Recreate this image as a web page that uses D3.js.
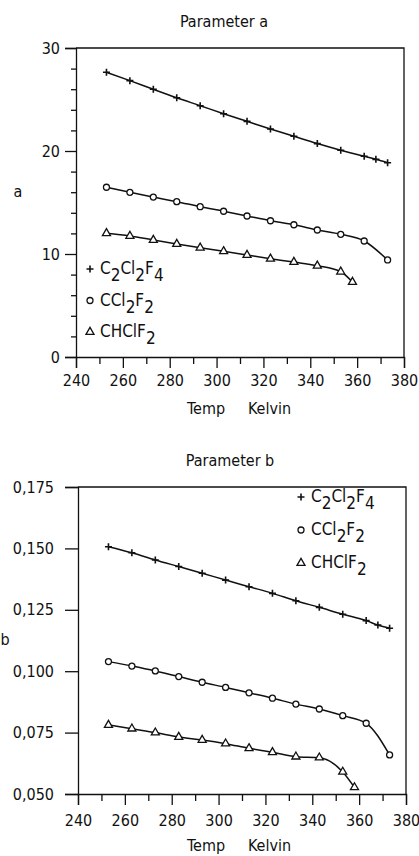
<!DOCTYPE html>
<html lang="en">
<head>
<meta charset="UTF-8">
<script src="https://d3js.org/d3.v7.min.js"></script>
<title>Parameters a and b</title>
<style>
  body { margin: 0; background: #fff; }
  svg { display: block; }
  text { font-family: "DejaVu Sans Condensed", "DejaVu Sans", sans-serif; font-stretch: condensed; fill: #111; }
  .domain { stroke: #111; stroke-width: 1.3; }
  .tick line { stroke: #111; stroke-width: 1.3; }
</style>
</head>
<body>
<div id="chart"></div>
<script>
// temperatures (K) at which each refrigerant was evaluated
var tempC2Cl2F4 = [253, 263, 273, 283, 293, 303, 313, 323, 333, 343, 353, 363, 368, 373];
var tempCCl2F2  = [253, 263, 273, 283, 293, 303, 313, 323, 333, 343, 353, 363, 373];
var tempCHClF2  = [253, 263, 273, 283, 293, 303, 313, 323, 333, 343, 353, 358];

// parameter a
var aC2Cl2F4 = [27.64, 26.83, 25.99, 25.17, 24.40, 23.62, 22.88, 22.14, 21.43, 20.72, 20.07, 19.49, 19.19, 18.86];
var aCCl2F2  = [16.48, 15.99, 15.53, 15.08, 14.59, 14.15, 13.69, 13.23, 12.84, 12.33, 11.91, 11.26, 9.42];
var aCHClF2  = [12.01, 11.75, 11.36, 10.97, 10.61, 10.26, 9.90, 9.54, 9.22, 8.86, 8.28, 7.28];

// parameter b
var bC2Cl2F4 = [0.1507, 0.1482, 0.1453, 0.1426, 0.1399, 0.1371, 0.1344, 0.1317, 0.1287, 0.1260, 0.1232, 0.1206, 0.1188, 0.1175];
var bCCl2F2  = [0.1039, 0.1021, 0.1001, 0.0978, 0.0955, 0.0934, 0.0912, 0.0890, 0.0866, 0.0846, 0.0819, 0.0788, 0.0659];
var bCHClF2  = [0.0781, 0.0766, 0.0750, 0.0732, 0.0720, 0.0705, 0.0686, 0.0670, 0.0652, 0.0648, 0.0590, 0.0527];

var seriesNames = ["C_2Cl_2F_4", "CCl_2F_2", "CHClF_2"];
var markers = ["plus", "circle", "triangle"];

var xTicks = [240, 260, 280, 300, 320, 340, 360, 380];
var xMinorTicks = [250, 270, 290, 310, 330, 350, 370];
var aTicks = [0, 10, 20, 30];
var aMinorTicks = [2, 4, 6, 8, 12, 14, 16, 18, 22, 24, 26, 28];
var bTicks = [0.050, 0.075, 0.100, 0.125, 0.150, 0.175];

var width = 419, height = 856;

var svg = d3.select("#chart").append("svg")
    .attr("width", width).attr("height", height);

function zip(xs, ys) {
    return xs.map(function(x, i) { return [x, ys[i]]; });
}

// writes "C_2Cl_2F_4" as text with dropped subscripts
function chem(sel, name) {
    var parts = name.split("_");
    sel.append("tspan").text(parts[0]);
    for (var i = 1; i < parts.length; i++) {
        sel.append("tspan").attr("dy", 7).text(parts[i][0]);
        sel.append("tspan").attr("dy", -7).text(parts[i].slice(1));
    }
}

function drawMarker(g, type) {
    if (type == "plus") {
        g.append("path").attr("d", "M-3.5,0H3.5M0,-3.5V3.5")
            .attr("stroke", "#111").attr("stroke-width", 1.6);
    } else if (type == "circle") {
        g.append("circle").attr("r", 3)
            .attr("fill", "#fff").attr("stroke", "#111").attr("stroke-width", 1.3);
    } else {
        g.append("path").attr("d", d3.symbol().type(d3.symbolTriangle).size(28)())
            .attr("fill", "#fff").attr("stroke", "#111").attr("stroke-width", 1.3);
    }
}

function panel(opt) {
    var g = svg.append("g");
    var x = d3.scaleLinear().domain([240, 380]).range([opt.left, opt.right]);
    var y = d3.scaleLinear().domain(opt.yDomain).range([opt.bottom, opt.top]);

    // frame top & right
    g.append("path")
        .attr("d", "M" + opt.left + "," + opt.top + "H" + opt.right + "V" + opt.bottom)
        .attr("fill", "none").attr("stroke", "#111").attr("stroke-width", 1.3);

    // x axis
    var xa = g.append("g").attr("transform", "translate(0," + opt.bottom + ")")
        .call(d3.axisBottom(x).tickValues(xTicks).tickSize(11).tickPadding(opt.xPad));
    xa.selectAll("text").attr("font-size", 16);
    g.append("g").attr("transform", "translate(0," + opt.bottom + ")")
        .call(d3.axisBottom(x).tickValues(xMinorTicks).tickSize(7).tickFormat(""))
        .select(".domain").remove();

    // y axis
    var ya = g.append("g").attr("transform", "translate(" + opt.left + ",0)")
        .call(d3.axisLeft(y).tickValues(opt.yTicks).tickSize(opt.yTick).tickPadding(opt.yPad)
            .tickFormat(opt.yFormat));
    ya.selectAll("text").attr("font-size", 16);
    if (opt.yMinor) {
        g.append("g").attr("transform", "translate(" + opt.left + ",0)")
            .call(d3.axisLeft(y).tickValues(opt.yMinor).tickSize(5).tickFormat(""))
            .select(".domain").remove();
    }

    // curves and markers
    var line = d3.line().curve(d3.curveMonotoneX)
        .x(function(d) { return x(d[0]); })
        .y(function(d) { return y(d[1]); });

    opt.series.forEach(function(s, i) {
        g.append("path").datum(s).attr("d", line)
            .attr("fill", "none").attr("stroke", "#111").attr("stroke-width", 1.5);
        g.selectAll(".m" + i).data(s).enter().append("g")
            .attr("class", "m" + i)
            .attr("transform", function(d) { return "translate(" + x(d[0]) + "," + y(d[1]) + ")"; })
            .each(function() { drawMarker(d3.select(this), markers[i]); });
    });

    // title and axis labels
    g.append("text").attr("x", opt.titleX).attr("y", opt.titleY)
        .attr("text-anchor", "middle").attr("font-size", 16).text(opt.title);
    g.append("text").attr("x", 239).attr("y", opt.bottom + 57)
        .attr("text-anchor", "middle").attr("font-size", 16).attr("xml:space", "preserve")
        .text("Temp     Kelvin");
    g.append("text").attr("x", opt.yLabelX).attr("y", opt.yLabelY)
        .attr("text-anchor", "middle").attr("font-size", 16).text(opt.yLabel);

    // legend
    seriesNames.forEach(function(n, i) {
        var ly = opt.legendY + i * opt.legendStep;
        var m = g.append("g").attr("transform", "translate(" + opt.legendX + "," + ly + ")");
        drawMarker(m, markers[i]);
        var t = g.append("text").attr("x", opt.legendX + 10).attr("y", ly + 5)
            .attr("font-size", 17);
        chem(t, n);
    });
}

panel({
    left: 76, right: 404, top: 48, bottom: 357,
    yDomain: [0, 30], yTicks: aTicks, yMinor: aMinorTicks, yFormat: d3.format("d"),
    yTick: 11, yPad: 5, xPad: 7,
    series: [zip(tempC2Cl2F4, aC2Cl2F4), zip(tempCCl2F2, aCCl2F2), zip(tempCHClF2, aCHClF2)],
    title: "Parameter a", titleX: 224, titleY: 27,
    yLabel: "a", yLabelX: 18, yLabelY: 197,
    legendX: 90, legendY: 269, legendStep: 31.5
});

panel({
    left: 78, right: 406, top: 487, bottom: 794,
    yDomain: [0.05, 0.175], yTicks: bTicks,
    yFormat: function(d) { return d3.format(".3f")(d).replace(".", ","); },
    yTick: 13, yPad: 11, xPad: 10,
    series: [zip(tempC2Cl2F4, bC2Cl2F4), zip(tempCCl2F2, bCCl2F2), zip(tempCHClF2, bCHClF2)],
    title: "Parameter b", titleX: 230, titleY: 466,
    yLabel: "b", yLabelX: 5, yLabelY: 645,
    legendX: 301, legendY: 497, legendStep: 33
});
</script>
</body>
</html>
